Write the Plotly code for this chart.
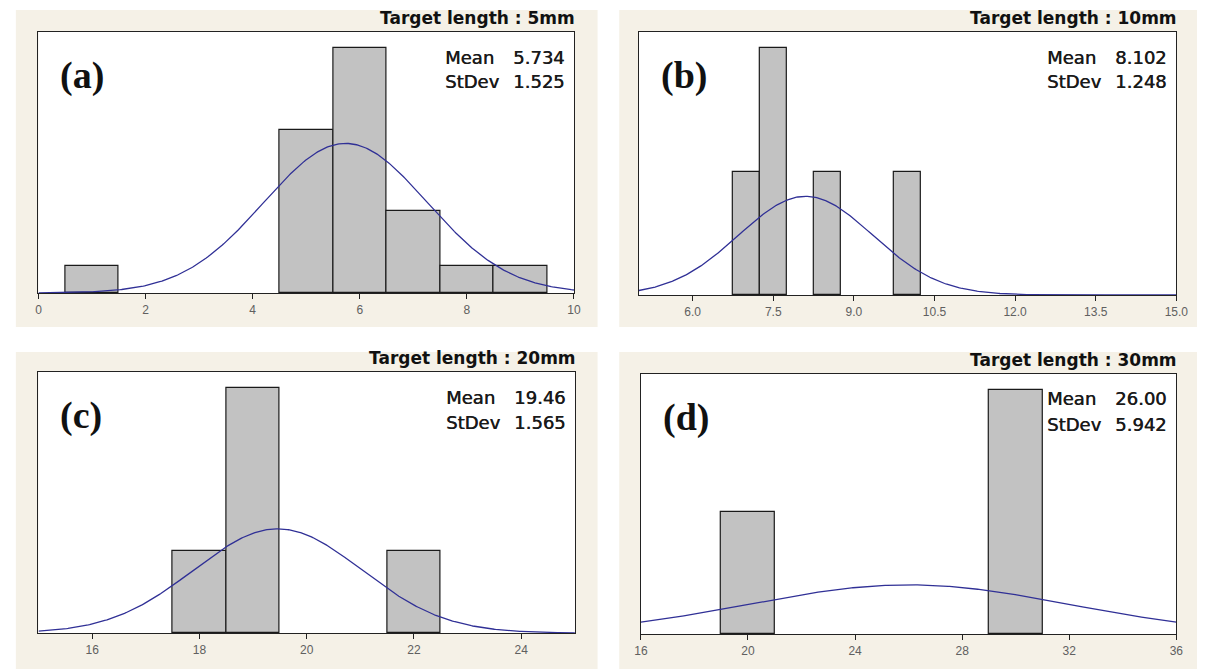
import numpy as np
import plotly.graph_objects as go

# ---- data ----
panel_labels = ["(a)", "(b)", "(c)", "(d)"]
titles = ["Target length : 5mm", "Target length : 10mm", "Target length : 20mm", "Target length : 30mm"]
means = [5.734, 8.102, 19.46, 26.00]
stdevs = [1.525, 1.248, 1.565, 5.942]
mean_txt = ["5.734", "8.102", "19.46", "26.00"]
sd_txt = ["1.525", "1.248", "1.565", "5.942"]

a_centers = [1, 5, 6, 7, 8, 9]
a_counts = [1, 6, 9, 3, 1, 1]
a_width = 1.0
b_centers = [7.0, 7.5, 8.5, 10.0]
b_counts = [1, 2, 1, 1]
b_width = 0.5
c_centers = [18, 19, 22]
c_counts = [1, 3, 1]
c_width = 1.0
d_centers = [20, 30]
d_counts = [1, 2]
d_width = 2.0

x_ranges = [[0, 10], [5, 15], [15, 25], [16, 36]]
tick_vals = [[0, 2, 4, 6, 8, 10],
             [6.0, 7.5, 9.0, 10.5, 12.0, 13.5, 15.0],
             [16, 18, 20, 22, 24],
             [16, 20, 24, 28, 32, 36]]
tick_text = [["0", "2", "4", "6", "8", "10"],
             ["6.0", "7.5", "9.0", "10.5", "12.0", "13.5", "15.0"],
             ["16", "18", "20", "22", "24"],
             ["16", "20", "24", "28", "32", "36"]]

centers = [a_centers, b_centers, c_centers, d_centers]
counts = [a_counts, b_counts, c_counts, d_counts]
widths = [a_width, b_width, c_width, d_width]

# ---- layout geometry (pixels) ----
W, H = 1209, 669
boxes = [(32, 576, 32, 293), (642, 1188, 32, 295), (32, 577, 372, 633), (644, 1188, 374, 634)]
bgs = [(9, 600, 10, 327), (622, 1209, 10, 327), (9, 600, 352, 669), (622, 1209, 352, 669)]

def px(x):
    return x / W

def py(y):
    return 1 - y / H

fig = go.Figure()
shapes = []
annotations = []

for i in range(4):
    xa = "x" if i == 0 else f"x{i+1}"
    ya = "y" if i == 0 else f"y{i+1}"
    n = sum(counts[i])
    fig.add_trace(go.Bar(
        x=centers[i], y=counts[i], width=[widths[i]] * len(centers[i]),
        marker=dict(color="#C2C2C2", line=dict(color="#1a1a1a", width=1.2)),
        xaxis=xa, yaxis=ya, showlegend=False, hoverinfo="skip"))
    xs = np.linspace(x_ranges[i][0], x_ranges[i][1], 400)
    ys = n * widths[i] * np.exp(-0.5 * ((xs - means[i]) / stdevs[i]) ** 2) / (stdevs[i] * np.sqrt(2 * np.pi))
    fig.add_trace(go.Scatter(x=xs, y=ys, mode="lines",
                             line=dict(color="#303096", width=1.3),
                             xaxis=xa, yaxis=ya, showlegend=False, hoverinfo="skip"))

    l, r, t, b = boxes[i]
    xkey = "xaxis" if i == 0 else f"xaxis{i+1}"
    ykey = "yaxis" if i == 0 else f"yaxis{i+1}"
    fig.update_layout(**{
        xkey: dict(domain=[px(l), px(r)], range=x_ranges[i], anchor=ya,
                   tickvals=tick_vals[i], ticktext=tick_text[i],
                   ticks="outside", ticklen=5, tickcolor="#222", tickwidth=1,
                   tickfont=dict(family="Liberation Sans", size=12, color="#606060"),
                   showline=True, linecolor="#222", linewidth=1.3, mirror=True,
                   showgrid=False, zeroline=False, fixedrange=True),
        ykey: dict(domain=[py(b), py(t)], range=[0, max(counts[i]) * 1.065], anchor=xa,
                   showticklabels=False, ticks="", showline=True, linecolor="#222",
                   linewidth=1.3, mirror=True, showgrid=False, zeroline=False, fixedrange=True),
    })

    bl, br, bt, bb = bgs[i]
    shapes.append(dict(type="rect", xref="paper", yref="paper", x0=px(bl), x1=px(br),
                       y0=py(bb), y1=py(bt), fillcolor="#F5F1E7", line=dict(width=0),
                       layer="below"))
    shapes.append(dict(type="rect", xref=f"{xa} domain", yref=f"{ya} domain", x0=0, x1=1,
                       y0=0, y1=1, fillcolor="white", line=dict(width=0), layer="below"))

    # title
    annotations.append(dict(text=f"<b>{titles[i]}</b>", xref="paper", yref="paper",
                            x=px(r + 3), y=py(t - 14), xanchor="right", yanchor="middle",
                            showarrow=False,
                            font=dict(family="DejaVu Sans", size=17, color="#111")))
    # panel label
    annotations.append(dict(text=f"<b>{panel_labels[i]}</b>", xref="paper", yref="paper",
                            x=px(l + 20), y=py(t + 43), xanchor="left", yanchor="middle",
                            showarrow=False,
                            font=dict(family="Liberation Serif", size=38, color="#111")))
    # stats
    for j, (lab, val) in enumerate([("Mean", mean_txt[i]), ("StDev", sd_txt[i])]):
        yy = t + 25 + 25 * j
        annotations.append(dict(text=lab, xref="paper", yref="paper",
                                x=px(r - 133), y=py(yy), xanchor="left", yanchor="middle",
                                showarrow=False,
                                font=dict(family="DejaVu Sans", size=18, color="#1a1a1a",
                                          shadow="0.5px 0px 0px #1a1a1a")))
        annotations.append(dict(text=val, xref="paper", yref="paper",
                                x=px(r - 7), y=py(yy), xanchor="right", yanchor="middle",
                                showarrow=False,
                                font=dict(family="DejaVu Sans", size=18, color="#1a1a1a",
                                          shadow="0.5px 0px 0px #1a1a1a")))

fig.update_layout(width=W, height=H, margin=dict(l=0, r=0, t=0, b=0),
                  paper_bgcolor="white", plot_bgcolor="white",
                  bargap=0, shapes=shapes, annotations=annotations)

fig.write_html("out.html", config={"displayModeBar": False},
               post_script="document.body.style.margin='0';document.body.style.overflow='hidden';")
